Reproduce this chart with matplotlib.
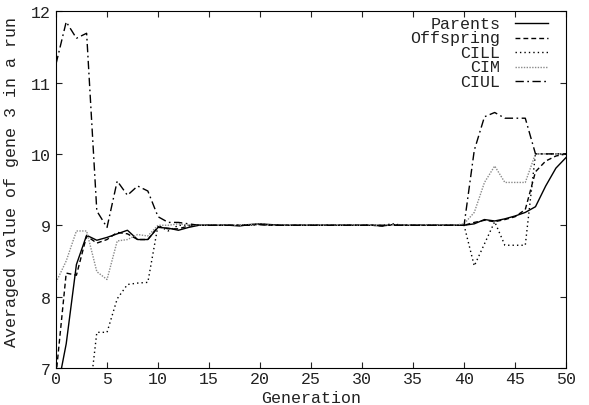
import matplotlib
matplotlib.use("Agg")
import matplotlib.pyplot as plt

generations = list(range(0, 51))

parents = [6.6, 7.34, 8.45, 8.86, 8.79, 8.83, 8.88, 8.93, 8.80, 8.80,
           8.97, 8.96, 8.93, 8.97, 9.0, 9.0, 9.0, 9.0, 8.99, 9.01,
           9.02, 9.01, 9.0, 9.0, 9.0, 9.0, 9.0, 9.0, 9.0, 9.0,
           9.0, 9.0, 8.99, 9.01, 9.0, 9.0, 9.0, 9.0, 9.0, 9.0,
           9.0, 9.02, 9.08, 9.06, 9.09, 9.13, 9.18, 9.26, 9.55, 9.8,
           9.95]
offspring = [6.9, 8.33, 8.3, 8.85, 8.75, 8.8, 8.9, 8.88, 8.8, 8.8,
             8.98, 8.95, 8.95, 8.99, 9.0, 9.0, 9.0, 9.0, 9.0, 9.01,
             9.01, 9.0, 9.0, 9.0, 9.0, 9.0, 9.0, 9.0, 9.0, 9.0,
             9.0, 9.0, 8.99, 9.01, 9.0, 9.0, 9.0, 9.0, 9.0, 9.0,
             9.0, 9.04, 9.07, 9.05, 9.08, 9.12, 9.22, 9.75, 9.9, 9.97,
             10.0]
cill = [5.5, 5.8, 6.0, 6.25, 7.5, 7.5, 7.97, 8.17, 8.19, 8.2,
        9.0, 8.92, 9.0, 9.0, 9.0, 9.0, 9.0, 9.0, 9.0, 9.0,
        9.02, 9.0, 9.0, 9.0, 9.0, 9.0, 9.0, 9.0, 9.0, 9.0,
        9.0, 9.0, 9.0, 9.02, 9.0, 9.0, 9.0, 9.0, 9.0, 9.0,
        9.0, 8.43, 8.74, 9.05, 8.72, 8.72, 8.72, 10.0, 10.0, 10.0,
        10.0]
cim = [8.2, 8.5, 8.92, 8.92, 8.35, 8.24, 8.78, 8.8, 8.87, 8.85,
       9.0, 9.0, 9.02, 9.0, 9.0, 9.0, 9.0, 9.0, 9.0, 9.01,
       9.02, 9.0, 9.0, 9.0, 9.0, 9.0, 9.0, 9.0, 9.0, 9.0,
       9.0, 9.0, 9.0, 9.01, 9.0, 9.0, 9.0, 9.0, 9.0, 9.0,
       9.02, 9.18, 9.6, 9.83, 9.6, 9.6, 9.6, 10.0, 10.0, 10.0,
       10.0]
ciul = [11.26, 11.85, 11.62, 11.69, 9.2, 8.97, 9.62, 9.42, 9.55, 9.48,
        9.12, 9.04, 9.04, 9.02, 9.0, 9.0, 9.0, 9.0, 9.0, 9.0,
        9.01, 9.0, 9.0, 9.0, 9.0, 9.0, 9.0, 9.0, 9.0, 9.0,
        9.0, 9.0, 9.0, 9.0, 9.0, 9.0, 9.0, 9.0, 9.0, 9.0,
        9.0, 10.05, 10.52, 10.58, 10.5, 10.5, 10.5, 10.0, 10.0, 10.0,
        10.0]

labels = ["Parents", "Offspring", "CILL", "CIM", "CIUL"]
series = [parents, offspring, cill, cim, ciul]
styles = [
    dict(color="black", linestyle="-"),
    dict(color="black", linestyle=(0, (3.5, 2.2))),
    dict(color="black", linestyle=(0, (1, 2.2))),
    dict(color="#8a8a8a", linestyle=(0, (1, 1))),
    dict(color="black", linestyle=(0, (6, 2.5, 1.2, 2.5))),
]

xticks = [0, 5, 10, 15, 20, 25, 30, 35, 40, 45, 50]
yticks = [7, 8, 9, 10, 11, 12]

plt.rcParams['font.family'] = ['Liberation Mono', 'DejaVu Sans Mono']
plt.rcParams['font.size'] = 12

fig = plt.figure(figsize=(5.89, 4.06), dpi=100)
ax = fig.add_axes([0.0951, 0.0911, 0.866, 0.879])

for lab, ys, st in zip(labels, series, styles):
    ax.plot(generations, ys, lw=1.0, **st)

ax.set_xlim(0, 50)
ax.set_ylim(7, 12)
ax.set_xticks(xticks)
ax.set_yticks(yticks)
ax.tick_params(direction="in", length=4, width=0.8, top=True, right=True,
               labelsize=12, pad=4, colors="#222222")
ax.tick_params(axis="x", pad=2.5)
for s in ax.spines.values():
    s.set_linewidth(0.8)
ax.set_xlabel("Generation", fontsize=12, color="#222222")
ax.xaxis.set_label_coords(0.5, -0.063)
ax.set_ylabel("Averaged value of gene 3 in a run", fontsize=12, color="#222222")
ax.yaxis.set_label_coords(-0.073, 0.525)

# manual legend (gnuplot style: right-aligned label, sample line to the right)
y0 = 0.966
dy = 0.0406
for i, (lab, st) in enumerate(zip(labels, styles)):
    y = y0 - i * dy
    ax.text(0.871, y, lab, transform=ax.transAxes, ha="right", va="center",
            fontsize=12, color="#222222")
    ax.plot([0.900, 0.965], [y, y], transform=ax.transAxes, lw=1.0, **st)

fig.savefig("out.png", dpi=100)
